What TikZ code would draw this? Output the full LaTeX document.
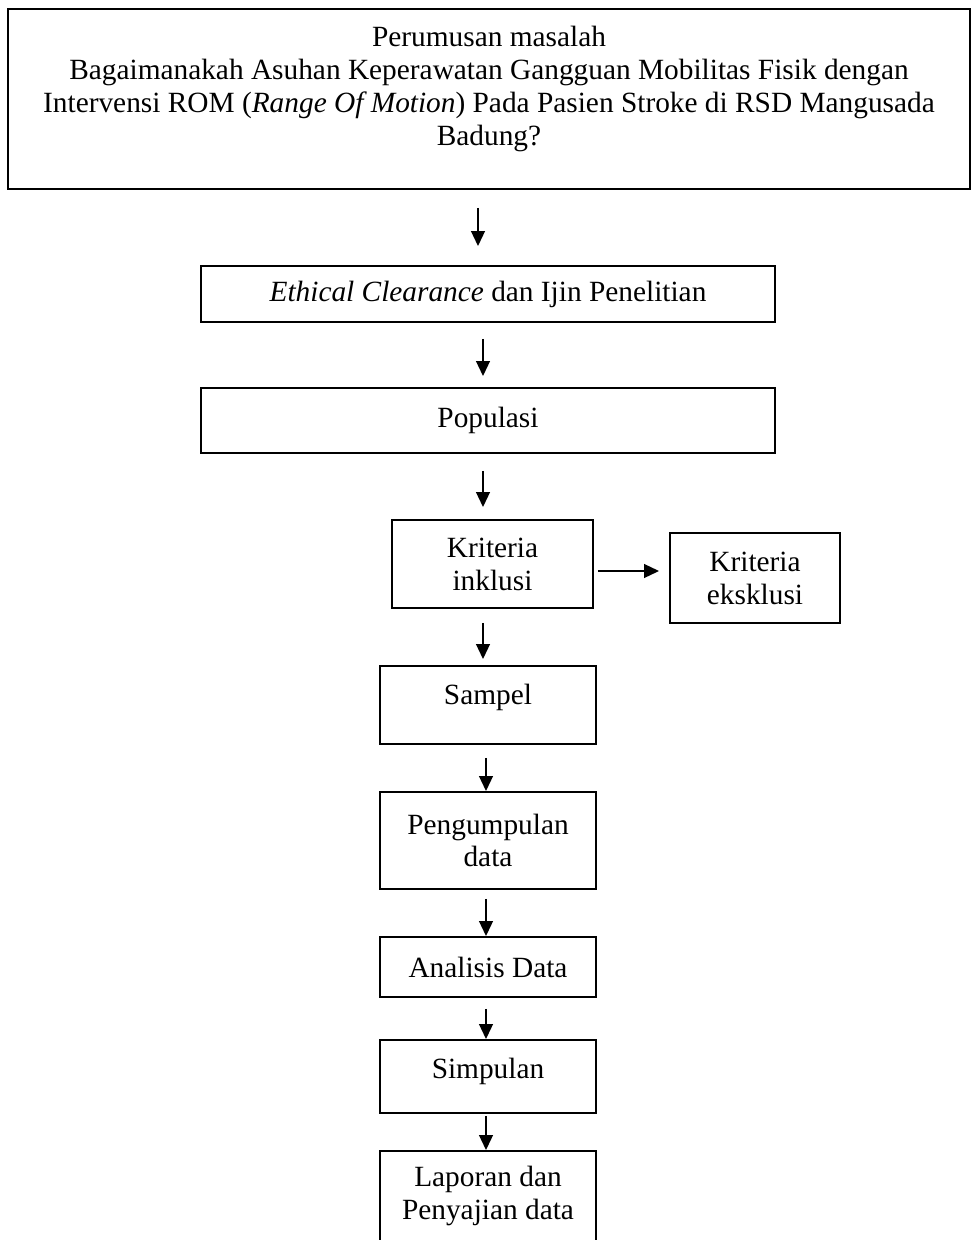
\documentclass[tikz,border=0pt]{standalone}
\usepackage{fontspec}
\setmainfont{Liberation Serif}
\usetikzlibrary{arrows.meta,positioning}

\tikzset{
  box/.style={draw, line width=1pt, align=center, inner sep=0pt,
    font=\fontsize{16.7}{18.7}\selectfont},
  arr/.style={line width=1.4pt, -{Triangle[length=0.3cm,width=0.27cm]}},
}

\begin{document}
\begin{tikzpicture}
\useasboundingbox (0,0) rectangle (19.42,-24.8);

% boxes
\node[box, minimum width=19.24cm, minimum height=3.6cm, text depth=0.52cm] (masalah) at (9.78,-1.98)
  {Perumusan masalah\\
   Bagaimanakah Asuhan Keperawatan Gangguan Mobilitas Fisik dengan\\
   Intervensi ROM (\textit{Range Of Motion}) Pada Pasien Stroke di RSD Mangusada\\
   Badung?};
\node[box, minimum width=11.48cm, minimum height=1.12cm] (ijin) at (9.76,-5.88)
  {\textit{Ethical Clearance} dan Ijin Penelitian};
\node[box, minimum width=11.48cm, minimum height=1.3cm] (populasi) at (9.76,-8.41) {Populasi};
\node[box, minimum width=4.02cm, minimum height=1.76cm] (inklusi) at (9.85,-11.28) {Kriteria\\inklusi};
\node[box, minimum width=3.4cm, minimum height=1.8cm] (eksklusi) at (15.1,-11.56) {Kriteria\\eksklusi};
\node[box, minimum width=4.32cm, minimum height=1.56cm, text depth=0.44cm] (sampel) at (9.76,-14.1) {Sampel};
\node[box, minimum width=4.32cm, minimum height=1.94cm] (kumpul) at (9.76,-16.81) {Pengumpulan\\data};
\node[box, minimum width=4.32cm, minimum height=1.2cm] (analisis) at (9.76,-19.34) {Analisis Data};
\node[box, minimum width=4.32cm, minimum height=1.46cm, text depth=0.31cm] (simpulan) at (9.76,-21.53) {Simpulan};
\node[box, minimum width=4.32cm, minimum height=2.02cm, text depth=0.36cm] (laporan) at (9.76,-24.03) {Laporan dan\\Penyajian data};

% arrows
\draw[arr, shorten <=0.36cm, shorten >=0.38cm] ([xshift=-0.22cm]masalah.south) -- ([xshift=-0.22cm]masalah.south |- ijin.north);
\draw[arr, shorten <=0.32cm, shorten >=0.22cm] ([xshift=-0.1cm]ijin.south) -- ([xshift=-0.1cm]populasi.north);
\draw[arr, shorten <=0.34cm, shorten >=0.24cm] ([xshift=-0.1cm]populasi.south) -- ([xshift=-0.1cm]populasi.south |- inklusi.north);
\draw[arr, shorten <=0.08cm, shorten >=0.2cm] ([yshift=-0.14cm]inklusi.east) -- ([yshift=0.14cm]eksklusi.west);
\draw[arr, shorten <=0.28cm, shorten >=0.12cm] ([xshift=-0.19cm]inklusi.south) -- ([xshift=-0.19cm]inklusi.south |- sampel.north);
\draw[arr, shorten <=0.26cm] ([xshift=-0.04cm]sampel.south) -- ([xshift=-0.04cm]kumpul.north);
\draw[arr, shorten <=0.18cm] ([xshift=-0.04cm]kumpul.south) -- ([xshift=-0.04cm]analisis.north);
\draw[arr, shorten <=0.22cm] ([xshift=-0.04cm]analisis.south) -- ([xshift=-0.04cm]simpulan.north);
\draw[arr, shorten <=0.04cm] ([xshift=-0.04cm]simpulan.south) -- ([xshift=-0.04cm]laporan.north);
\end{tikzpicture}
\end{document}
